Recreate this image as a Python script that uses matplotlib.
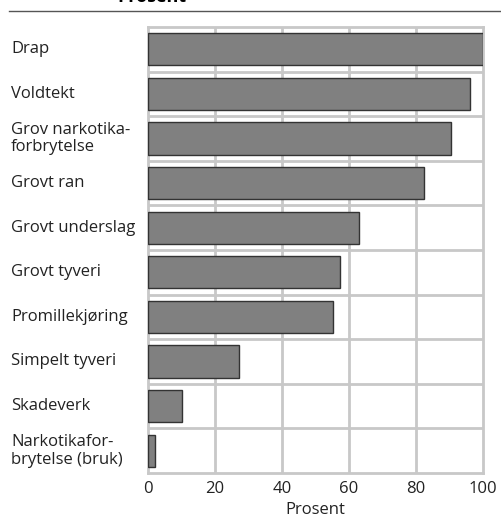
import matplotlib.pyplot as plt
from matplotlib.lines import Line2D

plt.rcParams['font.family'] = ['Open Sans', 'DejaVu Sans']

categories = ["Drap", "Voldtekt", "Grov narkotika-\nforbrytelse", "Grovt ran",
              "Grovt underslag", "Grovt tyveri", "Promillekjøring",
              "Simpelt tyveri", "Skadeverk", "Narkotikafor-\nbrytelse (bruk)"]
values = [100, 96, 90.4, 82.5, 63, 57.3, 55.2, 27.2, 10.2, 2.1]
xticks = [0, 20, 40, 60, 80, 100]

fig = plt.figure(figsize=(5.01, 5.17), dpi=100)
ax = fig.add_axes([148/501, 1 - 473/517, 335/501, 446/517])

grid_c = "#c8c8c8"
txt_c = "#222222"
n = len(categories)
ypos = list(range(n))
ax.barh(ypos, values, height=0.72, color="#808080", edgecolor="#333333",
        linewidth=1.0, zorder=3)

ax.set_xlim(0, 100)
ax.set_ylim(n - 0.5, -0.5)
ax.set_xticks(xticks)
ax.set_xticklabels([str(t) for t in xticks], fontsize=12, color=txt_c)
ax.set_yticks([])
for b in range(1, n):
    ax.axhline(b - 0.5, color=grid_c, lw=2, zorder=1)
for t in xticks[1:-1]:
    ax.axvline(t, color=grid_c, lw=2, zorder=1)
for s in ax.spines.values():
    s.set_color(grid_c)
    s.set_linewidth(2)
ax.tick_params(axis='x', length=0, pad=6)
ax.set_xlabel("Prosent", fontsize=12, color=txt_c, labelpad=3)

for i, c in enumerate(categories):
    ax.text(-0.409, i, c, transform=ax.get_yaxis_transform(), ha='left',
            va='center', fontsize=12, color=txt_c, linespacing=1.15)

fig.text(152/501, 1 - 2/517, "Prosent", ha='center', va='baseline',
         fontsize=13, fontweight='bold')
fig.add_artist(Line2D([9/501, 1], [1 - 11/517, 1 - 11/517], color="#555555",
                      lw=1, transform=fig.transFigure))

fig.savefig("out.png", dpi=100)
